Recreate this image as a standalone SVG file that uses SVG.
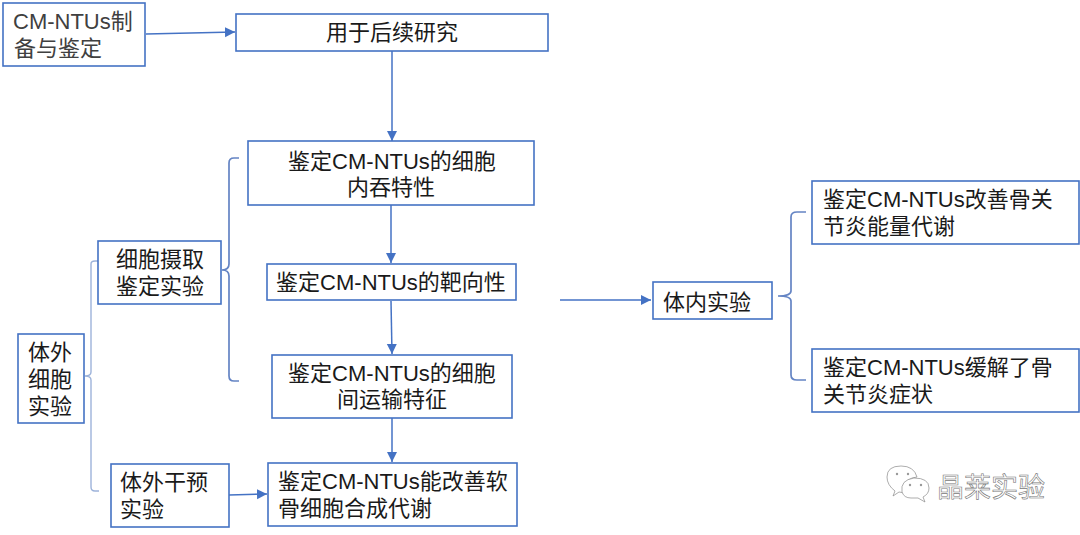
<svg xmlns="http://www.w3.org/2000/svg" width="1080" height="535" viewBox="0 0 1080 535">
<defs>
<marker id="arr" markerUnits="userSpaceOnUse" markerWidth="11" markerHeight="11" refX="10" refY="5.5" orient="auto"><path d="M0 0.5L10 5.5L0 10.5Z" fill="#4472c4"/></marker>
</defs>
<style>
.b{fill:#fff;stroke:#4472c4;stroke-width:1.6}
text{font-family:"Liberation Sans","Noto Sans CJK SC",sans-serif;font-size:22px;fill:#1a1a1a}
.m{text-anchor:middle}
.c{fill:none;stroke:#4472c4;stroke-width:1.5}
.br{fill:none;stroke:#6484c4;stroke-width:1.7}
.lt{fill:none;stroke:#9db3da;stroke-width:1.4}
.w{fill:#fff;stroke:#8a8a8a;stroke-width:.7}
</style>
<rect width="1080" height="535" fill="#fff"/>
<g id="connectors">
<path class="c" marker-end="url(#arr)" d="M146 34L235 32"/>
<path class="c" marker-end="url(#arr)" d="M392 51L392 141"/>
<path class="c" marker-end="url(#arr)" d="M391 205L391 263"/>
<path class="c" marker-end="url(#arr)" d="M391 301L392 354"/>
<path class="c" marker-end="url(#arr)" d="M392 418L392 462"/>
<path class="c" marker-end="url(#arr)" d="M229 495L267 494"/>
<path class="c" marker-end="url(#arr)" d="M560 300L651 300"/>
<path class="br" d="M239 158H234Q229 158 229 163V264Q229 270 222 270Q229 270 229 276V376Q229 381 234 381H239"/>
<path class="br" d="M806 212H797Q791 212 791 217V291Q791 296 778 296Q791 296 791 301V375Q791 380 797 380H806"/>
<path class="lt" d="M99 261H95Q91 261 91 264V372Q91 376 85 376Q91 376 91 380V487Q91 491 95 491H99"/>
</g>
<g id="n1"><rect class="b" x="3" y="3" width="142" height="63"/><text x="13" y="29" style="fill:#404040">CM-NTUs制</text><text x="14" y="56" style="fill:#404040">备与鉴定</text></g>
<g id="n2"><rect class="b" x="236" y="14" width="312" height="37"/><text class="m" x="392" y="40">用于后续研究</text></g>
<g id="n3"><rect class="b" x="248" y="141" width="286" height="64"/><text class="m" x="392" y="169">鉴定CM-NTUs的细胞</text><text class="m" x="391" y="195">内吞特性</text></g>
<g id="n4"><rect class="b" x="267" y="264" width="249" height="36"/><text class="m" x="391" y="290">鉴定CM-NTUs的靶向性</text></g>
<g id="n5"><rect class="b" x="272" y="355" width="240" height="63"/><text class="m" x="392" y="381">鉴定CM-NTUs的细胞</text><text class="m" x="392" y="407">间运输特征</text></g>
<g id="n6"><rect class="b" x="268" y="463" width="249" height="63"/><text x="278" y="489">鉴定CM-NTUs能改善软</text><text x="278" y="516">骨细胞合成代谢</text></g>
<g id="n7"><rect class="b" x="98" y="241" width="123" height="63"/><text class="m" x="160" y="267">细胞摄取</text><text class="m" x="160" y="294">鉴定实验</text></g>
<g id="n8"><rect class="b" x="18" y="334" width="66" height="89"/><text class="m" x="50" y="360">体外</text><text class="m" x="50" y="387">细胞</text><text class="m" x="50" y="414">实验</text></g>
<g id="n9"><rect class="b" x="111" y="464" width="118" height="63"/><text x="120" y="490">体外干预</text><text x="120" y="517">实验</text></g>
<g id="n10"><rect class="b" x="653" y="282" width="119" height="37"/><text x="663" y="310">体内实验</text></g>
<g id="n11"><rect class="b" x="812" y="181" width="267" height="63"/><text x="823" y="207">鉴定CM-NTUs改善骨关</text><text x="823" y="234">节炎能量代谢</text></g>
<g id="n12"><rect class="b" x="812" y="349" width="267" height="63"/><text x="823" y="375">鉴定CM-NTUs缓解了骨</text><text x="823" y="402">关节炎症状</text></g>
<g id="watermark">
<path class="w" d="M895 491Q887 485 887 477Q887 466 901 466Q914 466 917 477Q906 478 904 487L905 493L899 492L893 496Z"/>
<path class="w" d="M911 498Q904 498 902 492Q900 480 914 478Q929 478 929 488Q929 494 923 497L925 502L918 498Z"/>
<circle cx="897" cy="474" r="1.2" fill="#999"/><circle cx="908" cy="474" r="1.2" fill="#999"/><circle cx="910" cy="485" r="1.2" fill="#999"/><circle cx="921" cy="485" r="1.2" fill="#999"/>
<text x="937" y="497" style="font-size:27px;fill:#fff;stroke:#777;stroke-width:.6">晶莱实验</text>
</g>
</svg>
